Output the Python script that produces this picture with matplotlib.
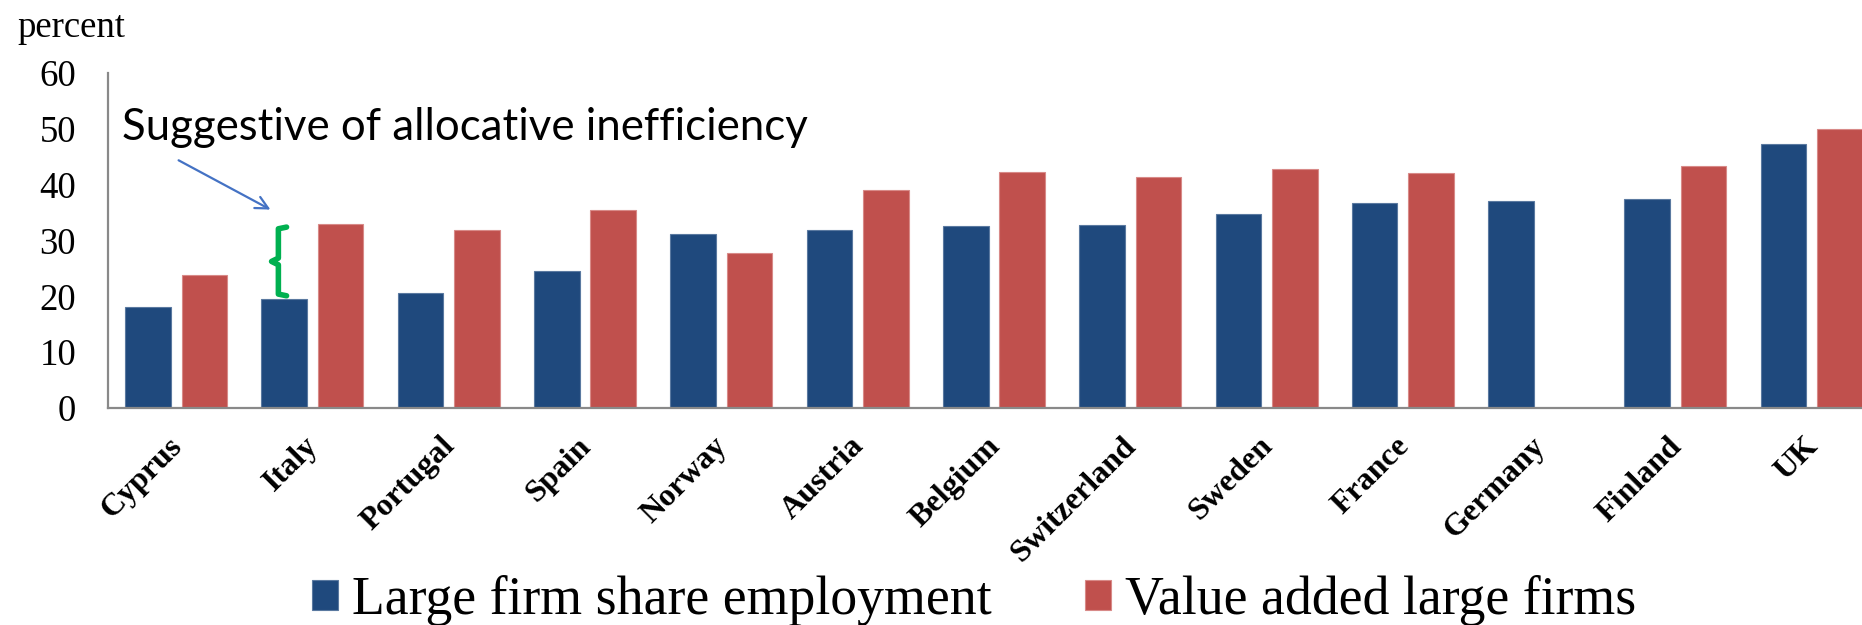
import matplotlib
matplotlib.use("Agg")
import matplotlib.pyplot as plt
import numpy as np
from matplotlib.transforms import offset_copy

countries = ["Cyprus", "Italy", "Portugal", "Spain", "Norway", "Austria", "Belgium",
             "Switzerland", "Sweden", "France", "Germany", "Finland", "UK"]
employment = [18.1, 19.5, 20.6, 24.5, 31.1, 31.9, 32.6, 32.8, 34.7, 36.8, 37.0, 37.4, 47.2]
value_added = [23.9, 33.0, 31.9, 35.5, 27.7, 39.1, 42.3, 41.3, 42.8, 42.1, np.nan, 43.3, 50.0]
yticks = [0, 10, 20, 30, 40, 50, 60]

BLUE = "#1F497D"
RED = "#C0504D"
GRAY = "#898989"
SERIF = ["Liberation Serif", "DejaVu Serif"]

W, H = 1862, 625
fig = plt.figure(figsize=(W / 100, H / 100), dpi=100)
fig.patch.set_facecolor("white")

left_px, bottom_px, top_px = 108, 408, 73
group_px = 136.3
ax = fig.add_axes([left_px / W, (H - bottom_px) / H,
                   13 * group_px / W, (bottom_px - top_px) / H])
ax.set_facecolor("white")

x = np.arange(len(countries))
bw = 0.335
off = 0.207
ax.bar(x - off, employment, width=bw, color=BLUE, edgecolor="#5a79a0", linewidth=0.8,
       label="Large firm share employment")
ax.bar(x + off, value_added, width=bw, color=RED, edgecolor="#d88a88", linewidth=0.8,
       label="Value added large firms")

ax.set_xlim(-0.5, len(countries) - 0.5)
ax.set_ylim(0, 60)
ax.set_yticks(yticks)
ax.set_yticklabels([str(t) for t in yticks], fontsize=26.5, family=SERIF)
ax.tick_params(axis="y", length=0, pad=23)
ax.tick_params(axis="x", length=0, pad=17)
ax.set_xticks(x)
labels = ax.set_xticklabels(countries, rotation=45, ha="right", fontsize=23,
                            fontweight="bold", family=SERIF)
for lab in labels:
    lab.set_transform(offset_copy(lab.get_transform(), fig=fig, x=12, y=0, units="dots"))

for s in ["top", "right"]:
    ax.spines[s].set_visible(False)
for s in ["left", "bottom"]:
    ax.spines[s].set_color(GRAY)
    ax.spines[s].set_linewidth(1.6)

# "percent" label
fig.text(17 / W, 1 - 37 / H, "percent", fontsize=26.5, family=SERIF,
         ha="left", va="baseline")

# annotation text
t = fig.text(122 / W, 1 - 140 / H, "Suggestive of allocative inefficiency",
             fontsize=33, family=["Lato", "DejaVu Sans"], ha="left", va="baseline")
fig.canvas.draw()
wpx = t.get_window_extent().width
t.set_fontsize(33 * 685 / wpx)

# arrow
ax.annotate("", xy=(1 - 0.29, 35.3), xytext=(1 - 1.0, 44.6),
            arrowprops=dict(arrowstyle="->,head_length=0.9,head_width=0.45",
                            color="#4472C4", lw=1.6))

# green bracket between Italy's two bars
i = 1
ylo = employment[i] + 0.6
yhi = value_added[i] - 0.6
ymid = (ylo + yhi) / 2
xs = i - 0.25
bx = [xs + 0.06, xs, xs, xs - 0.05, xs, xs, xs + 0.06]
by = [yhi, yhi - 0.3, ymid + 0.6, ymid, ymid - 0.6, ylo + 0.3, ylo]
ax.plot(bx, by, color="#00B050", lw=4, solid_capstyle="round", solid_joinstyle="round",
        clip_on=False)

# legend
fig.legend(loc="lower left", bbox_to_anchor=(290 / W, -0.036), ncol=2, frameon=False,
           prop={"family": SERIF, "size": 38.7}, handlelength=0.5, handleheight=0.5,
           handletextpad=0.25, columnspacing=1.73, borderaxespad=0)

fig.savefig("out.png", dpi=100, facecolor="white")
